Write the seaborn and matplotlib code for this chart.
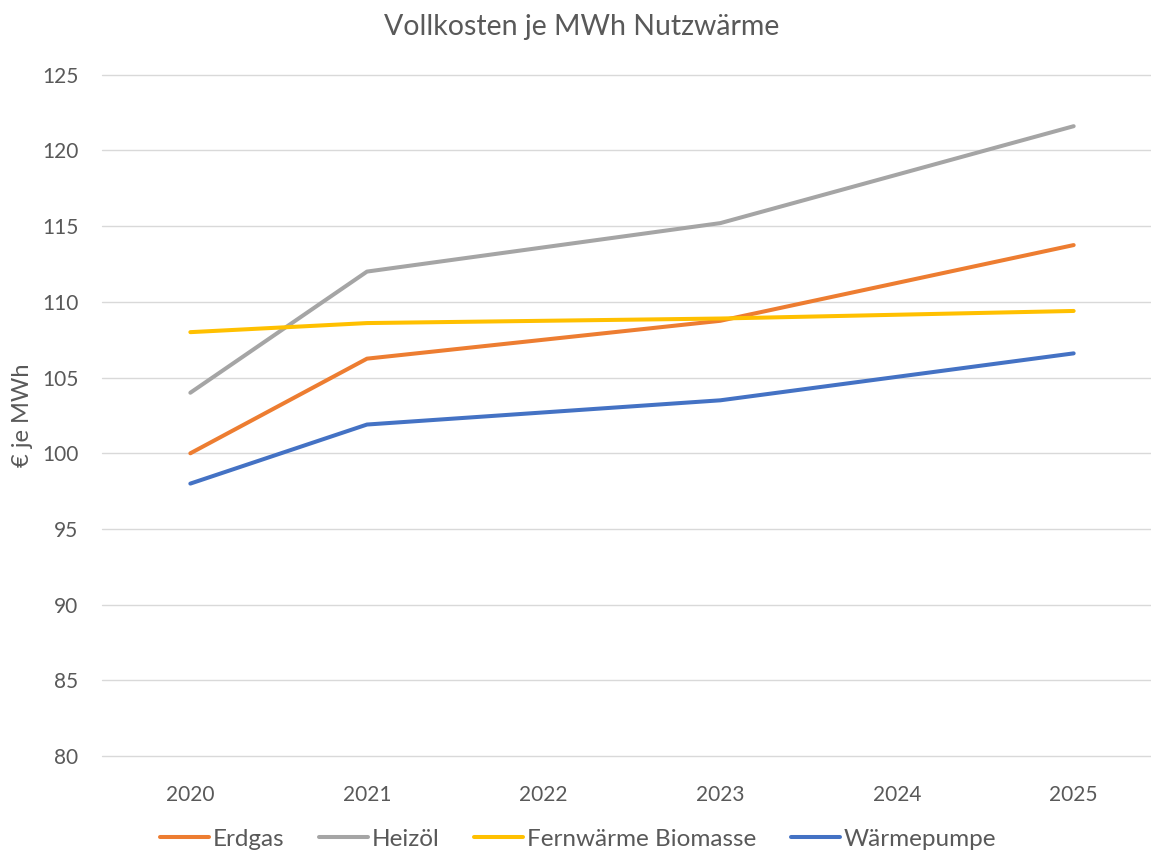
import numpy as np
import pandas as pd
import matplotlib
matplotlib.use("Agg")
import matplotlib.pyplot as plt
import seaborn as sns

# Full cost per MWh of useful heat, by heating technology (no values for 2022 and 2024)
years = [2020, 2021, 2022, 2023, 2024, 2025]
erdgas = [100.0, 106.25, np.nan, 108.75, np.nan, 113.75]
heizoel = [104.0, 112.0, np.nan, 115.2, np.nan, 121.6]
fernwaerme = [108.0, 108.6, np.nan, 108.9, np.nan, 109.4]
waermepumpe = [98.0, 101.9, np.nan, 103.5, np.nan, 106.6]

series_names = ["Erdgas", "Heizöl", "Fernwärme Biomasse", "Wärmepumpe"]
series_values = [erdgas, heizoel, fernwaerme, waermepumpe]
colors = ["#ED7D31", "#A5A5A5", "#FFC000", "#4472C4"]

y_ticks = [80, 85, 90, 95, 100, 105, 110, 115, 120, 125]

frames = []
for name, vals in zip(series_names, series_values):
    frames.append(pd.DataFrame({"Jahr": years, "Wert": vals, "Reihe": name}))
df = pd.concat(frames, ignore_index=True).dropna()

sns.set_theme(style="white")
plt.rcParams["font.family"] = ["Lato", "DejaVu Sans"]
text_color = "#595959"
grid_color = "#D9D9D9"

W, H = 1151, 851
fig = plt.figure(figsize=(W / 100, H / 100), dpi=100)
left, right, top, bottom = 102, 1162, 74.7, 756.2
ax = fig.add_axes([left / W, 1 - bottom / H, (right - left) / W, (bottom - top) / H])

sns.lineplot(
    data=df, x="Jahr", y="Wert", hue="Reihe", hue_order=series_names,
    palette=colors, linewidth=2.9, ax=ax, sort=True, estimator=None,
    solid_capstyle="round", legend=True,
)

ax.set_xlim(2019.5, 2025.5)
ax.set_ylim(80, 125)
ax.set_xticks(years)
ax.set_xticklabels([str(y) for y in years])
ax.set_yticks(y_ticks)
ax.set_yticklabels([str(t) for t in y_ticks])
ax.yaxis.grid(True, color=grid_color, linewidth=1.0, clip_on=False)
ax.xaxis.grid(False)
ax.set_axisbelow(True)
for s in ax.spines.values():
    s.set_visible(False)
ax.tick_params(axis="both", length=0, labelsize=15, labelcolor=text_color)
ax.tick_params(axis="y", pad=17)
ax.tick_params(axis="x", pad=21)
ax.set_xlabel("")
ax.set_ylabel("€ je MWh", fontsize=17, color=text_color)
ax.yaxis.set_label_coords(-(left - 33) / (right - left), 0.5)

fig.text(0.5055, 1 - 27 / H, "Vollkosten je MWh Nutzwärme", ha="center", va="center",
         fontsize=20.5, color=text_color)

handles, labels = ax.get_legend_handles_labels()
ax.legend(handles, labels, loc="center", bbox_to_anchor=(578 / W, 1 - 839 / H),
          bbox_transform=fig.transFigure, ncol=4, frameon=False, fontsize=17.5,
          handlelength=2.0, handletextpad=0.15, columnspacing=1.45, labelcolor=text_color,
          borderaxespad=0, borderpad=0)

fig.savefig("out.png", dpi=100)
